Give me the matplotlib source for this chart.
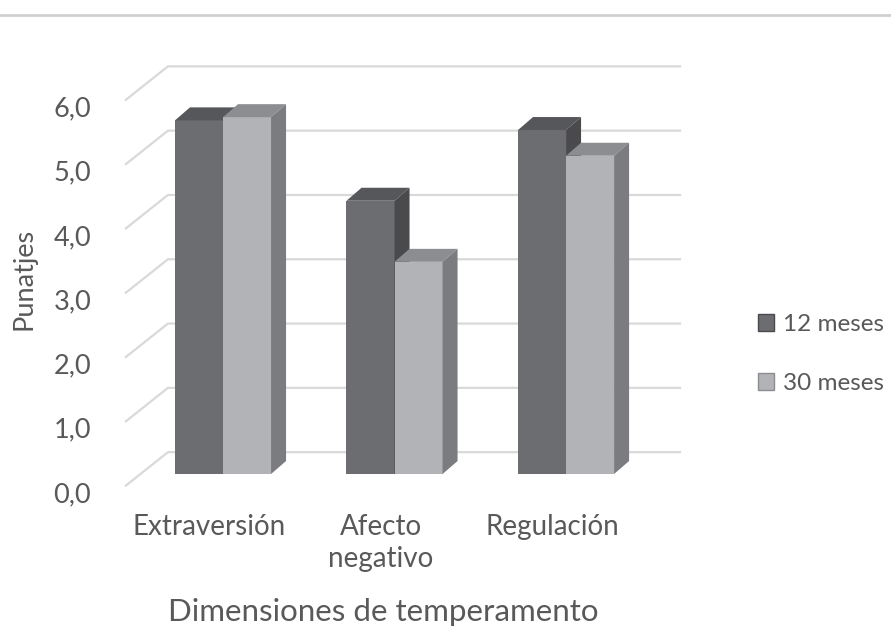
import matplotlib.pyplot as plt
from matplotlib.patches import Polygon, Patch
from matplotlib.lines import Line2D
import numpy as np

plt.rcParams['font.family'] = ['Lato', 'DejaVu Sans']

# datos
categorias = ["Extraversión", "Afecto\nnegativo", "Regulación"]
series = ["12 meses", "30 meses"]
meses_12 = [5.5, 4.25, 5.35]
meses_30 = [5.55, 3.3, 4.95]
ticks_y = [0, 1, 2, 3, 4, 5, 6]

# colores: frente, tapa, lateral
col_12 = ("#6c6d70", "#56575a", "#4a4a4d")
col_30 = ("#b2b3b6", "#8c8d90", "#7b7c80")
gris_texto = "#595959"
gris_linea = "#d9d9d9"

# geometria del efecto 3D (unidades de datos)
ancho = 0.28
dx, dy = 0.0875, 0.202
pared_dy, pared_x0, pared_x1 = 0.34, -0.321, 2.671
frente_x, frente_dy = -0.571, -0.19

fig = plt.figure(figsize=(8.91, 6.31), dpi=100)
ax = fig.add_axes([105/891, 131/631, 595/891, 460/631])
ax.set_xlim(-0.688, 2.781)
ax.set_ylim(-0.404, 6.750)

# rejilla: pared del fondo + diagonal del suelo lateral
for v in ticks_y:
    ax.plot([frente_x, pared_x0, pared_x1],
            [v + frente_dy, v + pared_dy, v + pared_dy],
            color=gris_linea, lw=1.6, zorder=1, solid_capstyle='butt')

x = np.arange(len(categorias))

def barra3d(xc, vals, cols, z):
    ax.bar(xc, vals, width=ancho, color=cols[0], zorder=z, linewidth=0)
    for xi, h in zip(xc, vals):
        x0, x1 = xi - ancho/2, xi + ancho/2
        tapa = Polygon([(x0, h), (x1, h), (x1 + dx, h + dy), (x0 + dx, h + dy)],
                       closed=True, facecolor=cols[1], edgecolor='none', zorder=z)
        lado = Polygon([(x1, 0), (x1 + dx, dy), (x1 + dx, h + dy), (x1, h)],
                       closed=True, facecolor=cols[2], edgecolor='none', zorder=z)
        ax.add_patch(tapa)
        ax.add_patch(lado)

barra3d(x - ancho/2, meses_12, col_12, 2)
barra3d(x + ancho/2, meses_30, col_30, 3)

ax.set_yticks([v - 0.28 for v in ticks_y])
ax.set_yticklabels([f"{v:.1f}".replace(".", ",") for v in ticks_y])
ax.set_xticks(x - 0.08)
ax.set_xticklabels(categorias, linespacing=1.3)
ax.tick_params(axis='y', length=0, pad=10, labelsize=19.5, labelcolor=gris_texto)
ax.tick_params(axis='x', length=0, pad=10, labelsize=20, labelcolor=gris_texto)
for s in ax.spines.values():
    s.set_visible(False)

fig.text(383/891, 1 - 612/631, "Dimensiones de temperamento", ha='center', va='center',
         fontsize=22.5, color=gris_texto)
fig.text(24/891, 1 - 279/631, "Punatjes", ha='center', va='center', rotation=90,
         fontsize=19.5, color=gris_texto)

handles = [Patch(facecolor=col_12[0], edgecolor=col_12[2]),
           Patch(facecolor=col_30[0], edgecolor=col_30[1])]
fig.legend(handles, series, loc='center left', bbox_to_anchor=(736/891, 1 - 354/631),
           frameon=False, fontsize=17.5, labelcolor=gris_texto, handlelength=0.68,
           handleheight=0.68, handletextpad=0.35, labelspacing=1.55)

# borde superior
fig.add_artist(Line2D([0, 1], [1 - 14.5/631, 1 - 14.5/631], color="#cfcfcf", lw=2))

fig.savefig("out.png", dpi=100)
